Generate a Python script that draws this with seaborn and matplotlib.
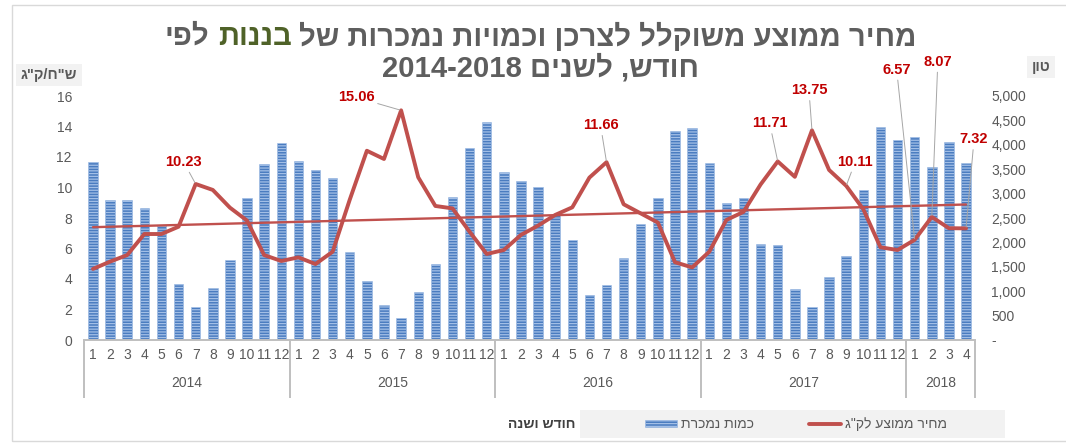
import numpy as np
import pandas as pd
import matplotlib
matplotlib.use("Agg")
import matplotlib.pyplot as plt
import seaborn as sns
from matplotlib.patches import Rectangle

# ---------------- data ----------------
years = [2014, 2015, 2016, 2017, 2018]
months_in_year = [12, 12, 12, 12, 4]

qty_2014 = [3654, 2869, 2869, 2698, 2357, 1141, 670, 1059, 1639, 2916, 3600, 4043]
qty_2015 = [3675, 3484, 3320, 1797, 1209, 717, 457, 984, 1556, 2938, 3938, 4469]
qty_2016 = [3438, 3259, 3134, 2563, 2050, 922, 1125, 1675, 2369, 2903, 4291, 4338]
qty_2017 = [3635, 2805, 2907, 1972, 1952, 1045, 677, 1283, 1713, 3083, 4372, 4100]
qty_2018 = [4168, 3554, 4053, 3635]

price_2014 = [4.66, 5.14, 5.57, 6.95, 6.95, 7.43, 10.23, 9.84, 8.68, 7.83, 5.57, 5.18]
price_2015 = [5.42, 4.98, 5.79, 9.20, 12.41, 11.87, 15.06, 10.67, 8.79, 8.63, 7.10, 5.64]
price_2016 = [5.90, 6.89, 7.50, 8.20, 8.70, 10.65, 11.66, 8.90, 8.30, 7.70, 5.10, 4.76]
price_2017 = [5.79, 7.87, 8.40, 10.20, 11.71, 10.70, 13.75, 11.15, 10.11, 8.57, 6.08, 5.90]
price_2018 = [6.57, 8.07, 7.33, 7.32]

label_idx = [6, 18, 30, 40, 42, 44, 48, 49, 51]
# label offsets in pixels from the labelled point (style only)
label_offsets = [(-12, 22), (-45, 13), (-6, 37), (-8, 38), (-3, 40),
                 (9, 24), (-18, 170), (6, 155), (8, 89)]

qty = qty_2014 + qty_2015 + qty_2016 + qty_2017 + qty_2018
price = price_2014 + price_2015 + price_2016 + price_2017 + price_2018
month_lbl = [str(m) for n in months_in_year for m in range(1, n + 1)]
year_col = [y for y, n in zip(years, months_in_year) for _ in range(n)]
n = len(qty)
df = pd.DataFrame({"idx": np.arange(n), "qty": qty, "price": price,
                   "month": month_lbl, "year": year_col})


def rtl(s):
    return s[::-1]


# ---------------- style ----------------
sns.set_theme(style="white")
plt.rcParams["font.family"] = ["Liberation Sans", "DejaVu Sans"]
plt.rcParams["hatch.linewidth"] = 0.9

GREY = "#595959"
RED = "#C0504D"
LBL_RED = "#C00000"
BAR = "#4A7CC0"
STRIPE = "#A3BFE6"
LINEGREY = "#BFBFBF"

W, H = 1066, 444
fig = plt.figure(figsize=(W / 100, H / 100), dpi=100)
fig.patch.set_facecolor("white")


def fx(px):
    return px / W


def fy(py):
    return 1 - py / H


AX_L, AX_R, AX_T, AX_B = 84.4, 974.6, 96, 340
ax = fig.add_axes([fx(AX_L), fy(AX_B), fx(AX_R) - fx(AX_L), fy(AX_T) - fy(AX_B)])
ax2 = ax.twinx()

# bars (right axis)
sns.barplot(data=df, x="idx", y="qty", ax=ax2, color=BAR, saturation=1,
            width=0.55, native_scale=True, errorbar=None)
for p in ax2.patches:
    p.set_hatch("------")
    p.set_edgecolor(STRIPE)
    p.set_linewidth(0.4)

# trend + price line (left axis)
sns.regplot(data=df, x="idx", y="price", ax=ax, scatter=False, ci=None,
            truncate=True, line_kws=dict(color=RED, lw=1.7, zorder=2))
sns.lineplot(data=df, x="idx", y="price", ax=ax, color=RED, lw=2.8, zorder=3)
main_line = ax.lines[-1]

ax.set_zorder(ax2.get_zorder() + 1)
ax.patch.set_visible(False)

ax.set_xlim(-0.5, n - 0.5)
ax.set_ylim(0, 16)
ax2.set_ylim(0, 5000)
for a in (ax, ax2):
    a.set_xlabel("")
    a.set_ylabel("")
    a.grid(False)
    for s in a.spines.values():
        s.set_visible(False)
ax.spines["bottom"].set_visible(True)
ax.spines["bottom"].set_color(LINEGREY)
ax.spines["bottom"].set_linewidth(1.4)

ax.set_yticks(range(0, 17, 2))
ax.tick_params(axis="y", length=0, pad=9, labelsize=10, labelcolor=GREY)
r_ticks = list(range(0, 5001, 500))
ax2.set_yticks(r_ticks)
ax2.set_yticklabels(["-" if t == 0 else f"{t:,}" for t in r_ticks])
ax2.tick_params(axis="y", length=0, pad=12, labelsize=10, labelcolor=GREY)

ax.set_xticks(df["idx"])
ax.set_xticklabels(df["month"])
ax.tick_params(axis="x", length=0, pad=6, labelsize=10, labelcolor=GREY)

# multi-level category axis
ax_h = AX_B - AX_T
bounds = np.concatenate([[-0.5], np.cumsum(months_in_year) - 0.5])
ax.vlines(bounds, -58 / ax_h, 0, transform=ax.get_xaxis_transform(),
          colors=LINEGREY, lw=1.4, clip_on=False)
for y in years:
    c = df.loc[df["year"] == y, "idx"].mean()
    ax.text(c, -43 / ax_h, str(y), transform=ax.get_xaxis_transform(),
            ha="center", va="center", fontsize=10, color=GREY)

# data labels
for i, (dx, dy) in zip(label_idx, label_offsets):
    ax.annotate(f"{price[i]:.2f}", xy=(i, price[i]), xytext=(dx, dy),
                textcoords="offset pixels", ha="center", va="center",
                color=LBL_RED, fontsize=10.5, fontweight="bold",
                arrowprops=dict(arrowstyle="-", color="#A6A6A6", lw=0.7,
                                shrinkA=0, shrinkB=1))

# ---------------- title ----------------
TITLE_GREY = "#5E5E5E"
GREEN = "#4F6228"
fs = 19
pieces = [(rtl("לפי"), TITLE_GREY), (rtl("בננות"), GREEN),
          (rtl("מחיר ממוצע משוקלל לצרכן וכמויות נמכרות של"), TITLE_GREY)]
tkw = dict(fontweight="bold", va="center", ha="left")
texts = [fig.text(0, fy(37), s, color=c, fontsize=fs, **tkw) for s, c in pieces]
probe1 = fig.text(0, 0, "ab", fontsize=fs, **tkw)
probe2 = fig.text(0, 0, "a b", fontsize=fs, **tkw)
fig.canvas.draw()
rend = fig.canvas.get_renderer()
gap = probe2.get_window_extent(rend).width - probe1.get_window_extent(rend).width
probe1.remove()
probe2.remove()
widths = [t.get_window_extent(rend).width for t in texts]
total = sum(widths) + gap * (len(widths) - 1)
scale = 750 / total
fs2 = fs * scale
gap *= scale
widths = [w * scale for w in widths]
total = sum(widths) + gap * (len(widths) - 1)
x = 540 - total / 2
for t, w in zip(texts, widths):
    t.set_fontsize(fs2)
    t.set_x(fx(x))
    x += w + gap
fig.text(fx(540), fy(68), "2014-2018 " + rtl("חודש, לשנים"), color=TITLE_GREY,
         fontsize=fs2, fontweight="bold", ha="center", va="center")

# axis unit titles
box = dict(boxstyle="square,pad=0.3", fc="#F2F2F2", ec="none")
fig.text(fx(49), fy(75), rtl('ש"ח/ק"ג'), ha="center", va="center", fontsize=10.5,
         fontweight="bold", color=GREY, bbox=box)
fig.text(fx(1041), fy(67), "ןוט", ha="center", va="center", fontsize=10.5,
         fontweight="bold", color=GREY, bbox=box)

# legend area
fig.add_artist(Rectangle((fx(580), fy(438)), fx(1005) - fx(580), fy(410) - fy(438),
                         transform=fig.transFigure, fc="#F2F2F2", ec="none", zorder=1))
fig.legend(handles=[ax2.patches[0], main_line],
           labels=[rtl("כמות נמכרת"), rtl('מחיר ממוצע לק"ג')],
           ncol=2, frameon=False, loc="center",
           bbox_to_anchor=(fx(796), fy(424)), fontsize=10, labelcolor=GREY,
           handlelength=2.3, handleheight=0.4, handletextpad=0.3,
           columnspacing=4.0)
fig.text(fx(542), fy(424), rtl("חודש ושנה"), ha="center", va="center",
         fontsize=10, fontweight="bold", color="#404040")

# outer frame
fig.add_artist(Rectangle((fx(12), fy(441)), fx(1075) - fx(12), fy(5) - fy(441),
                         transform=fig.transFigure, fc="none", ec="#D9D9D9",
                         lw=1.0, zorder=0))

fig.savefig("out.png", dpi=100, facecolor="white")
